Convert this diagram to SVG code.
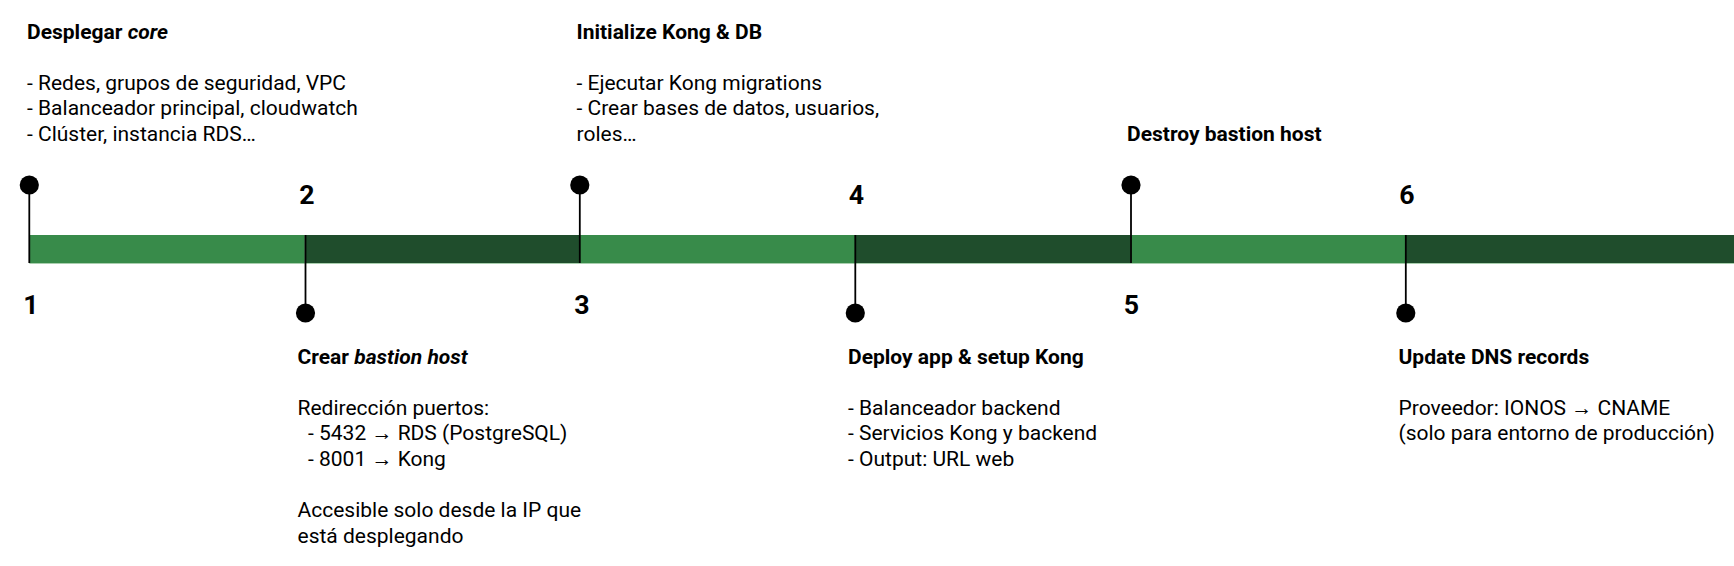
<svg xmlns="http://www.w3.org/2000/svg" width="1734" height="566" viewBox="0 0 1734 566">
  <style>
    text { font-family: Roboto, "Liberation Sans", Arial, sans-serif; fill: #000; }
    .t { font-size: 21px; font-weight: bold; }
    .b { font-size: 21px; }
    .n { font-size: 26.7px; font-weight: bold; text-anchor: middle; }
    .lite { fill: #388b4a; }
    .dark { fill: #1f4d2c; }
    .pin { stroke: #000; stroke-width: 1.8; fill: none; }
    .dot { fill: #000; }
  </style>
  <rect width="1734" height="566" fill="#fff"/>
  <g id="bar">
    <rect class="lite" x="29.3" y="235" width="275.5" height="28"/>
    <rect class="dark" x="304.8" y="235" width="275.2" height="28"/>
    <rect class="lite" x="580" y="235" width="275.3" height="28"/>
    <rect class="dark" x="855.3" y="235" width="275.5" height="28"/>
    <rect class="lite" x="1130.8" y="235" width="275" height="28"/>
    <rect class="dark" x="1405.8" y="235" width="328.2" height="28"/>
    <line x1="29.3" y1="263.5" x2="1734" y2="263.5" stroke="#a9cfae" stroke-width="1"/>
  </g>
  <g id="connectors">
    <line class="pin" x1="29.3" y1="185" x2="29.3" y2="263"/>
    <line class="pin" x1="305.5" y1="235" x2="305.5" y2="313"/>
    <line class="pin" x1="579.8" y1="185" x2="579.8" y2="263"/>
    <line class="pin" x1="855.3" y1="235" x2="855.3" y2="313"/>
    <line class="pin" x1="1131" y1="185" x2="1131" y2="263"/>
    <line class="pin" x1="1405.8" y1="235" x2="1405.8" y2="313"/>
  </g>
  <g id="step-1">
    <circle class="dot" cx="29.3" cy="185" r="9.6"/>
    <text class="n" x="31" y="313.5">1</text>
    <text class="t" x="27" y="38.5">Desplegar <tspan font-style="italic">core</tspan></text>
    <text class="b" x="27" y="89.7">- Redes, grupos de seguridad, VPC</text>
    <text class="b" x="27" y="115.3">- Balanceador principal, cloudwatch</text>
    <text class="b" x="27" y="140.9">- Clúster, instancia RDS…</text>
  </g>
  <g id="step-2">
    <circle class="dot" cx="305.5" cy="313" r="9.6"/>
    <text class="n" x="307" y="204">2</text>
    <text class="t" x="297.5" y="363.5">Crear <tspan font-style="italic">bastion host</tspan></text>
    <text class="b" x="297.5" y="414.7">Redirección puertos:</text>
    <text class="b" x="308" y="440.3">- 5432 → RDS (PostgreSQL)</text>
    <text class="b" x="308" y="465.9">- 8001 → Kong</text>
    <text class="b" x="297.5" y="517.1">Accesible solo desde la IP que</text>
    <text class="b" x="297.5" y="542.7">está desplegando</text>
  </g>
  <g id="step-3">
    <circle class="dot" cx="579.8" cy="185" r="9.6"/>
    <text class="n" x="582" y="313.5">3</text>
    <text class="t" x="576.5" y="38.5">Initialize Kong &amp; DB</text>
    <text class="b" x="576.5" y="89.7">- Ejecutar Kong migrations</text>
    <text class="b" x="576.5" y="115.3">- Crear bases de datos, usuarios,</text>
    <text class="b" x="576.5" y="140.9">roles…</text>
  </g>
  <g id="step-4">
    <circle class="dot" cx="855.3" cy="313" r="9.6"/>
    <text class="n" x="856.3" y="204">4</text>
    <text class="t" x="848" y="363.5">Deploy app &amp; setup Kong</text>
    <text class="b" x="848" y="414.7">- Balanceador backend</text>
    <text class="b" x="848" y="440.3">- Servicios Kong y backend</text>
    <text class="b" x="848" y="465.9">- Output: URL web</text>
  </g>
  <g id="step-5">
    <circle class="dot" cx="1131" cy="185" r="9.6"/>
    <text class="n" x="1131.5" y="313.5">5</text>
    <text class="t" x="1127" y="140.9">Destroy bastion host</text>
  </g>
  <g id="step-6">
    <circle class="dot" cx="1405.8" cy="313" r="9.6"/>
    <text class="n" x="1406.8" y="204">6</text>
    <text class="t" x="1398.5" y="363.5">Update DNS records</text>
    <text class="b" x="1398.5" y="414.7">Proveedor: IONOS → CNAME</text>
    <text class="b" x="1398.5" y="440.3">(solo para entorno de producción)</text>
  </g>
</svg>
